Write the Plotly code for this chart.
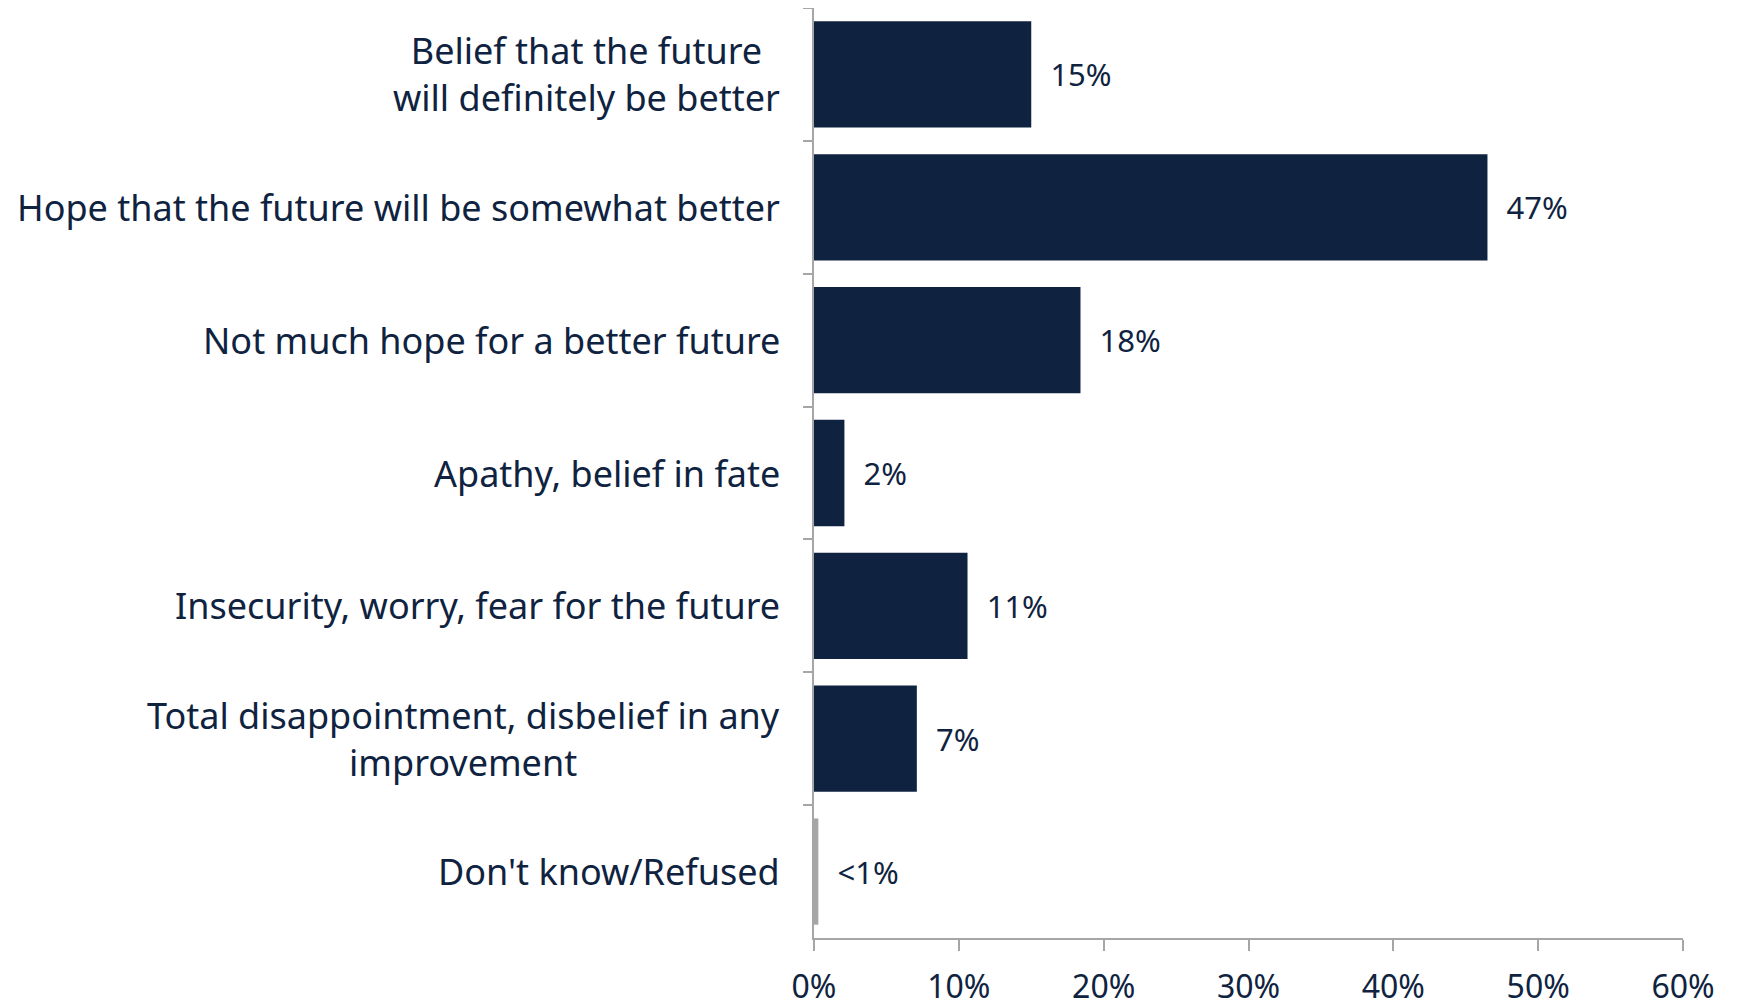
import plotly.graph_objects as go

# Survey answers, top to bottom
categories = [
    "Belief that the future<br>will definitely be better",
    "Hope that the future will be somewhat better",
    "Not much hope for a better future",
    "Apathy, belief in fate",
    "Insecurity, worry, fear for the future",
    "Total disappointment, disbelief in any<br>improvement",
    "Don't know/Refused",
]
values = [15, 46.5, 18.4, 2.1, 10.6, 7.1, 0.3]
labels = ["15%", "47%", "18%", "2%", "11%", "7%", "<1%"]
bar_colors = ["#0f2340"] * 6 + ["#a6a6a6"]

navy = "#0f2340"
grey = "#a6a6a6"
font = "Noto Sans"

fig = go.Figure(go.Bar(
    x=values,
    y=categories,
    orientation="h",
    marker=dict(color=bar_colors, line=dict(width=0)),
    text=["\u00a0\u00a0" + t for t in labels],
    textposition="outside",
    textfont=dict(family=font, size=31, color=navy),
    cliponaxis=False,
))

# category labels as annotations so multi-line text is centred like the original
for cat in categories:
    fig.add_annotation(
        x=0, xref="paper", y=cat, yref="y",
        text=cat, showarrow=False,
        xanchor="right", align="center", xshift=-32,
        font=dict(family=font, size=36, color=navy),
    )

fig.update_layout(
    width=1731, height=998,
    margin=dict(l=806, r=56, t=0, b=68),
    plot_bgcolor="white", paper_bgcolor="white",
    bargap=0.2,
    showlegend=False,
    font=dict(family=font, color=navy),
)
fig.update_xaxes(
    range=[0, 60], dtick=10, ticksuffix="%",
    showgrid=False, zeroline=False,
    showline=True, linecolor=grey, linewidth=2,
    ticks="outside", ticklen=11, tickcolor=grey, tickwidth=2,
    ticklabelstandoff=9,
    tickfont=dict(family=font, size=32, color=navy),
)
fig.update_yaxes(
    autorange="reversed",
    showticklabels=False, showgrid=False,
    showline=True, linecolor=grey, linewidth=2,
    ticks="outside", tickson="boundaries", ticklen=9, tickcolor=grey, tickwidth=2,
)

fig.write_html("out.html")
